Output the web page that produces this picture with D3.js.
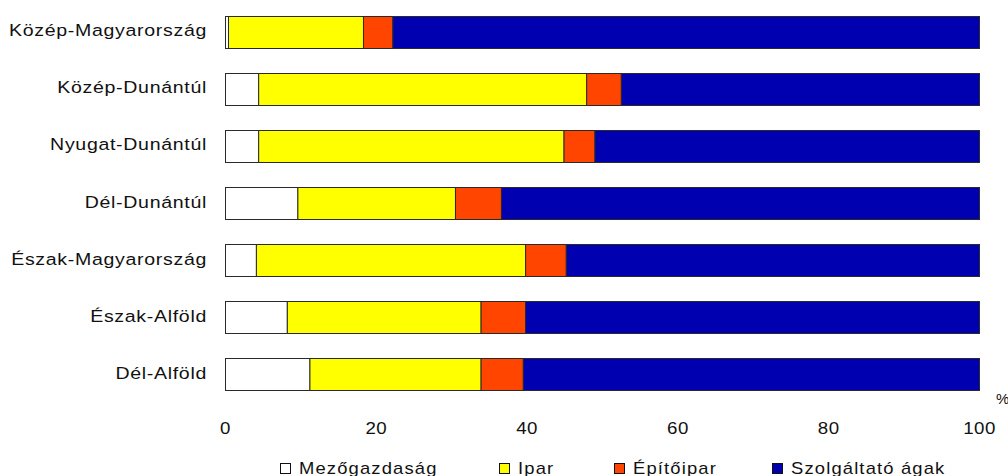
<!DOCTYPE html>
<html><head><meta charset="utf-8">
<script src="https://cdn.jsdelivr.net/npm/d3@7"></script>
<style>
body{margin:0;background:#fff;}
svg text{font-family:"Liberation Sans",Arial,sans-serif;fill:#111;}
</style></head>
<body><svg id="c" width="1008" height="476"></svg>
<script>
const regions = ["Közép-Magyarország","Közép-Dunántúl","Nyugat-Dunántúl","Dél-Dunántúl","Észak-Magyarország","Észak-Alföld","Dél-Alföld"];
const seriesNames = ["Mezőgazdaság","Ipar","Építőipar","Szolgáltató ágak"];
const mezogazdasag = [0.4, 4.4, 4.4, 9.6, 4.1, 8.2, 11.2];
const ipar         = [17.9, 43.5, 40.5, 20.9, 35.7, 25.7, 22.7];
const epitoipar    = [3.9, 4.6, 4.1, 6.1, 5.4, 5.9, 5.6];
const szolgaltato  = [77.8, 47.5, 51.0, 63.4, 54.8, 60.2, 60.5];
const xTicks = [0, 20, 40, 60, 80, 100];
const colors = ["#ffffff","#ffff00","#ff4500","#0000b0"];

const rows = regions.map((r,i)=>({region:r, "Mezőgazdaság":mezogazdasag[i], "Ipar":ipar[i], "Építőipar":epitoipar[i], "Szolgáltató ágak":szolgaltato[i]}));
const stack = d3.stack().keys(seriesNames)(rows);

const svg = d3.select("#c");
const x = d3.scaleLinear().domain([0,100]).range([225,979]);
const y = d3.scaleBand().domain(regions).range([3,403]).paddingInner(0.44).paddingOuter(0.22);

const g = svg.append("g");
stack.forEach((layer,k)=>{
  g.selectAll(null).data(layer).enter().append("rect")
    .attr("x", d=>x(d[0])+0.5)
    .attr("y", d=>Math.round(y(d.data.region))+0.5)
    .attr("width", d=>Math.max(0, x(d[1])-x(d[0])))
    .attr("height", Math.round(y.bandwidth()))
    .attr("fill", colors[k])
    .attr("stroke", "#2a2a2a")
    .attr("stroke-width", 1);
});

// category labels (slightly wide glyphs like the original)
svg.selectAll(null).data(regions).enter().append("text")
  .attr("transform", d=>`translate(207,${y(d)+y.bandwidth()/2+4.5}) scale(1.15,1)`)
  .attr("text-anchor","end")
  .style("font-size","17px").style("letter-spacing","0.6px")
  .text(d=>d);

// x axis labels
const ax = svg.append("g").attr("transform","translate(0,420)")
  .call(d3.axisBottom(x).tickValues(xTicks).tickSize(0).tickPadding(0).tickFormat(d3.format("d")));
ax.select(".domain").remove();
ax.selectAll("text").attr("dy",0).attr("y",14)
  .attr("transform","scale(1.1,1)").each(function(){
    const t=d3.select(this.parentNode).attr("transform");
  });
// apply stretch around each tick position
ax.selectAll(".tick").each(function(d){
  d3.select(this).select("text").attr("transform","scale(1.1,1)");
});
ax.selectAll("text")
  .style("font-size","17px").style("letter-spacing","0.4px")
  .style("font-family","'Liberation Sans',Arial,sans-serif").attr("fill","#111");

svg.append("text").attr("x",996).attr("y",404).style("font-size","15px").text("%");

// legend
const legX = [280, 499, 614, 772];
const lg = svg.selectAll(null).data(seriesNames).enter().append("g")
  .attr("transform",(d,i)=>`translate(${legX[i]},463)`);
lg.append("rect").attr("x",0.5).attr("y",0.5).attr("width",10).attr("height",10)
  .attr("fill",(d,i)=>colors[i]).attr("stroke","#111");
lg.append("text").attr("transform","translate(19,10.5) scale(1.15,1)")
  .style("font-size","16px").style("letter-spacing","1px").text(d=>d);
</script></body></html>
